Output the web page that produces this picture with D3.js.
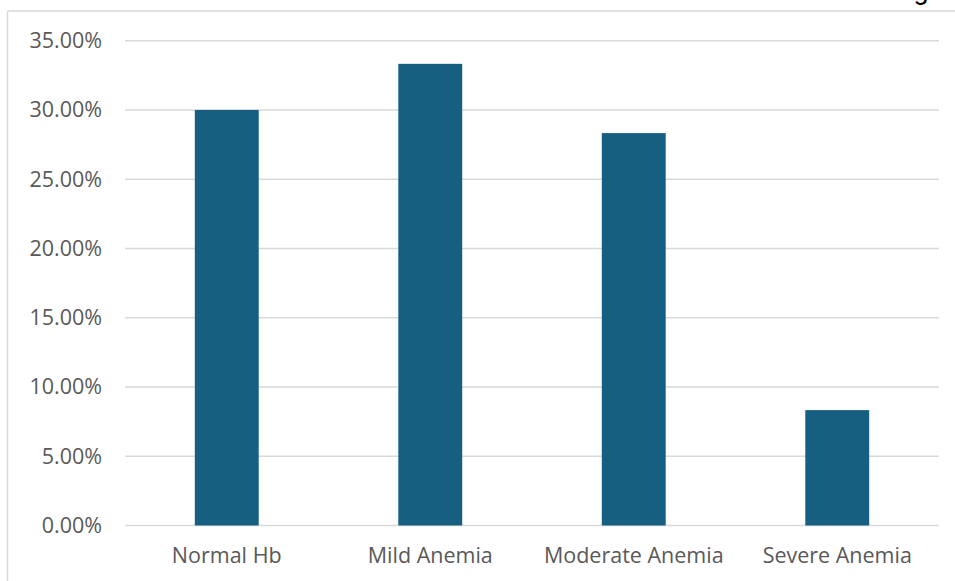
<!DOCTYPE html>
<html>
<head>
<meta charset="utf-8">
<script src="https://cdn.jsdelivr.net/npm/d3@7"></script>
<style>
  html, body { margin: 0; padding: 0; background: #fff; }
  svg { display: block; }
</style>
</head>
<body>
<svg id="chart" width="955" height="581"></svg>
<script>
// Share of patients by haemoglobin status
const categories = ["Normal Hb", "Mild Anemia", "Moderate Anemia", "Severe Anemia"];
const shares = [0.30, 0.3333, 0.2833, 0.0833];
const yTicks = [0, 0.05, 0.10, 0.15, 0.20, 0.25, 0.30, 0.35];

const W = 955, H = 581;
const margin = { left: 125, right: 16, top: 40.7, bottom: 55.5 };

const svg = d3.select("#chart");
const font = "'Open Sans', 'Noto Sans', sans-serif";

// chart frame (left and top edges visible)
svg.append("line").attr("x1", 7.5).attr("x2", 7.5).attr("y1", 11).attr("y2", H)
  .attr("stroke", "#d9d9d9").attr("stroke-width", 1.5);
svg.append("line").attr("x1", 7.5).attr("x2", W).attr("y1", 11).attr("y2", 11)
  .attr("stroke", "#d9d9d9").attr("stroke-width", 1.5);

// title text above the frame, only its descender shows
svg.append("text").attr("x", 921).attr("y", -1).attr("text-anchor", "middle")
  .attr("font-family", "Roboto, sans-serif").attr("font-size", 27).attr("fill", "#000").text("g");

const x = d3.scaleBand().domain(categories)
  .range([margin.left, W - margin.right]).paddingInner(0.686).paddingOuter(0.343);
const y = d3.scaleLinear().domain([0, 0.35]).range([H - margin.bottom, margin.top]);

// gridlines
svg.append("g").selectAll("line").data(yTicks).join("line")
  .attr("x1", margin.left).attr("x2", W - margin.right)
  .attr("y1", d => y(d)).attr("y2", d => y(d))
  .attr("stroke", "#d9d9d9").attr("stroke-width", 1.5);

// y-axis labels
const yAxis = d3.axisLeft(y).tickValues(yTicks).tickSize(0).tickPadding(0)
  .tickFormat(d => (d * 100).toFixed(2) + "%");
const gy = svg.append("g").attr("transform", `translate(102,0)`).call(yAxis);
gy.select(".domain").remove();
gy.selectAll("text").attr("font-family", font).attr("font-size", 21.5).attr("fill", "#595959");

// bars
svg.append("g").selectAll("rect").data(shares).join("rect")
  .attr("x", (d, i) => x(categories[i]))
  .attr("y", d => y(d))
  .attr("width", x.bandwidth())
  .attr("height", d => y(0) - y(d))
  .attr("fill", "#165f80");

// x-axis labels
const xAxis = d3.axisBottom(x).tickSize(0).tickPadding(0);
const gx = svg.append("g").attr("transform", `translate(0,${y(0)})`).call(xAxis);
gx.select(".domain").remove();
gx.selectAll("text").attr("dy", null).attr("y", 37)
  .attr("font-family", font).attr("font-size", 21.5).attr("fill", "#595959");
</script>
</body>
</html>
